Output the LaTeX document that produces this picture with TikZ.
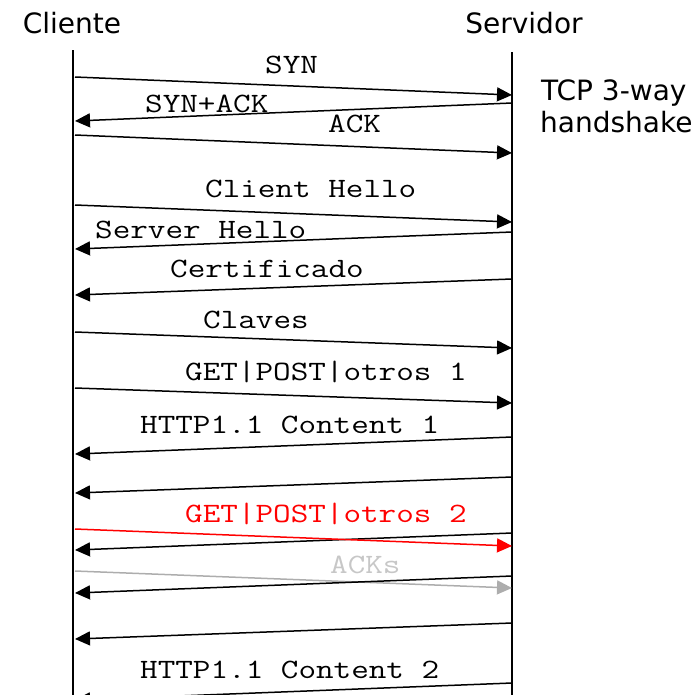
\documentclass[tikz,border=0pt]{standalone}
\usepackage{fontspec}
\usepackage{tikz}
\usetikzlibrary{arrows.meta}

\newfontfamily\headfam{DejaVu Sans}
\newcommand{\msgtxt}{\ttfamily\fontsize{28pt}{28pt}\selectfont}
\newcommand{\headtxt}{\headfam\fontsize{28pt}{28pt}\selectfont}
\newcommand{\msglbl}[1]{\scalebox{1.22}[1]{#1}}

\tikzset{
  life/.style={line width=1.5pt},
  msg/.style={line width=1.5pt,-{Triangle[length=15pt,width=14pt]}},
  lbl/.style={font=\msgtxt,anchor=base west,inner sep=0pt},
  hdr/.style={font=\headtxt,anchor=base,inner sep=0pt}
}

\begin{document}
\begin{tikzpicture}[x=1pt,y=-1pt]
	\clip (0,0) rectangle (700,694);

	% lifelines
	\node[hdr] (cliente) at (72,33) {Cliente};
	\node[hdr] (servidor) at (524,33) {Servidor};
	\coordinate (ctop) at (73,50);
	\coordinate (cbot) at (73,700);
	\coordinate (stop) at (512,52);
	\coordinate (sbot) at (512,700);
	\draw[life] (ctop) -- (cbot);
	\draw[life] (stop) -- (sbot);

	\node[hdr,anchor=base west] (tcp) at (541,100) {TCP 3-way};
	\node[hdr,anchor=base west] (hs) at (540,132) {handshake};

	% message end points
	\foreach \i/\yc/\ys in {1/77/95, 2/121/103, 3/135/153, 4/205/222,
	    5/249/232, 6/295/279, 7/332/348, 8/388/403, 9/454/437,
	    10/493/477, 11/529/546, 12/550/533, 13/571/588, 14/593/576,
	    15/639/623, 16/700/683}
	{
	  \coordinate (c\i) at (75,\yc);
	  \coordinate (s\i) at (512,\ys);
	}

	% handshake
	\draw[msg] (c1) -- (s1);
	\node[lbl] (syn) at (265,73) {\msglbl{SYN}};
	\draw[msg] (s2) -- (c2);
	\node[lbl] (synack) at (145,112) {\msglbl{SYN+ACK}};
	\draw[msg] (c3) -- (s3);
	\node[lbl] (ack) at (328,132) {\msglbl{ACK}};

	% TLS
	\draw[msg] (c4) -- (s4);
	\node[lbl] (chello) at (205,197) {\msglbl{Client Hello}};
	\draw[msg] (s5) -- (c5);
	\node[lbl] (shello) at (95,238) {\msglbl{Server Hello}};
	\draw[msg] (s6) -- (c6);
	\node[lbl] (cert) at (170,277) {\msglbl{Certificado}};
	\draw[msg] (c7) -- (s7);
	\node[lbl] (claves) at (203,328) {\msglbl{Claves}};

	% HTTP
	\draw[msg] (c8) -- (s8);
	\node[lbl] (get1) at (185,380) {\msglbl{GET|POST|otros 1}};
	\draw[msg] (s9) -- (c9);
	\node[lbl] (cont1) at (140,433) {\msglbl{HTTP1.1 Content 1}};
	\draw[msg] (s10) -- (c10);

	\draw[msg] (s12) -- (c12);
	\draw[msg,red] (c11) -- (s11);
	\node[lbl,text=red] (get2) at (185,522) {\msglbl{GET|POST|otros 2}};

	\draw[msg,black!32] (c13) -- (s13);
	\node[lbl,text=black!22] (acks) at (330,573) {\msglbl{ACKs}};
	\draw[msg] (s14) -- (c14);

	\draw[msg] (s15) -- (c15);
	\draw[msg] (s16) -- (c16);
	\node[lbl] (cont2) at (140,678) {\msglbl{HTTP1.1 Content 2}};
\end{tikzpicture}
\end{document}
